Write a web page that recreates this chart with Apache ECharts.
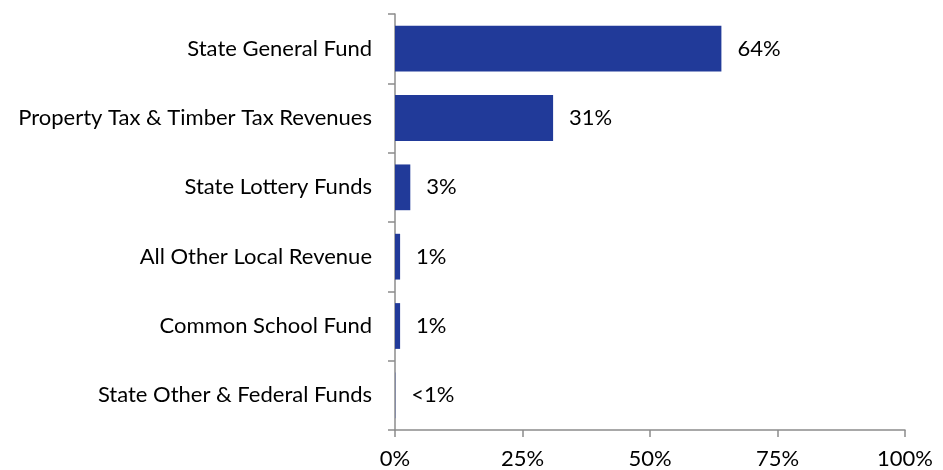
<!DOCTYPE html>
<html>
<head>
<meta charset="utf-8">
<script src="https://cdn.jsdelivr.net/npm/echarts@6/dist/echarts.min.js"></script>
<style>
  html, body { margin: 0; padding: 0; background: #fff; }
  #chart { width: 943px; height: 470px; }
</style>
</head>
<body>
<div id="chart"></div>
<script>
// Revenue sources, listed top to bottom
const categories = [
  'State General Fund',
  'Property Tax & Timber Tax Revenues',
  'State Lottery Funds',
  'All Other Local Revenue',
  'Common School Fund',
  'State Other & Federal Funds'
];
// Share of total revenue, percent
const shares = [64, 31, 3, 1, 1, 0.05];
// Text shown at the end of each bar
const shareLabels = ['64%', '31%', '3%', '1%', '1%', '<1%'];
const xTicks = [0, 25, 50, 75, 100];

const font = 'Lato, "Open Sans", sans-serif';
const axisGray = '#8c8c8c';

const chart = echarts.init(document.getElementById('chart'), null, { renderer: 'canvas' });
chart.setOption({
  animation: false,
  grid: { left: 395, right: 38, top: 14, bottom: 39, containLabel: false },
  xAxis: {
    type: 'value',
    min: xTicks[0],
    max: xTicks[xTicks.length - 1],
    interval: 25,
    axisLine: { show: true, lineStyle: { color: axisGray, width: 1.5 } },
    axisTick: { show: true, length: 7, lineStyle: { color: axisGray, width: 1.5 } },
    splitLine: { show: false },
    axisLabel: {
      formatter: v => v + '%',
      color: '#000', fontSize: 22, fontFamily: font, margin: 18
    }
  },
  yAxis: {
    type: 'category',
    inverse: true,
    data: categories,
    axisLine: { show: true, lineStyle: { color: axisGray, width: 1.5 } },
    axisTick: { show: true, length: 7, lineStyle: { color: axisGray, width: 1.5 } },
    axisLabel: { color: '#000', fontSize: 22, fontFamily: font, margin: 23 }
  },
  series: [{
    type: 'bar',
    data: shares,
    barCategoryGap: '34%',
    itemStyle: { color: '#213a99' },
    label: {
      show: true,
      position: 'right',
      distance: 16,
      color: '#000',
      fontSize: 22,
      fontFamily: font,
      formatter: p => shareLabels[p.dataIndex]
    }
  }]
});
</script>
</body>
</html>
